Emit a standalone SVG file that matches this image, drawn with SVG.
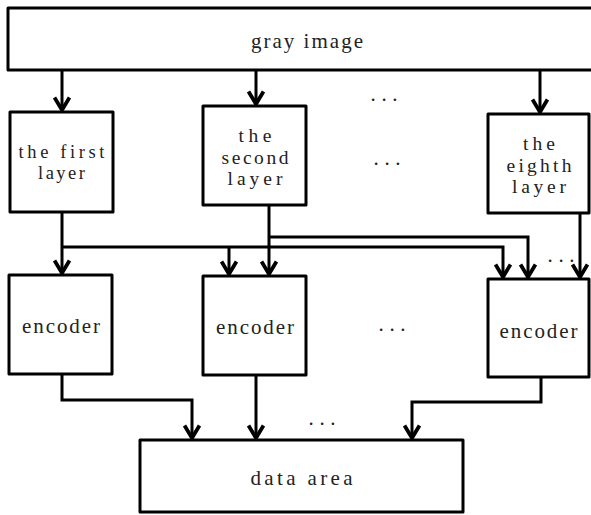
<svg xmlns="http://www.w3.org/2000/svg" width="591" height="515" viewBox="0 0 591 515">
  <style>
    .box { fill: #ffffff; stroke: #000000; stroke-width: 3; stroke-linejoin: round; }
    .lbl { font-family: "Liberation Serif", "Times New Roman", serif; fill: #222222; text-anchor: middle; }
    .s18 { font-size: 18.5px; }
    .s19 { font-size: 19.5px; }
    .s21 { font-size: 21px; }
    .wire { fill: none; stroke: #000000; stroke-width: 3; stroke-linejoin: miter; }
    .arrow { marker-end: url(#head); }
  </style>
  <defs>
    <marker id="head" markerUnits="userSpaceOnUse" orient="auto" refX="0" refY="0" markerWidth="20" markerHeight="20" viewBox="-12 -8 14 16" overflow="visible">
      <path d="M-10,-6 L0,0 L-10,6" fill="none" stroke="#000000" stroke-width="3" stroke-linejoin="miter"/>
    </marker>
  </defs>

  <rect width="591" height="515" fill="#ffffff"/>

  <!-- connectors -->
  <g id="connectors">
    <path class="wire arrow" d="M62,70 V110"/>
    <path class="wire arrow" d="M256,70 V104"/>
    <path class="wire arrow" d="M540,70 V112"/>

    <path class="wire arrow" d="M62,212 V273"/>
    <path class="wire arrow" d="M62,247 H503 V277"/>
    <path class="wire arrow" d="M229,247 V274"/>
    <path class="wire arrow" d="M269,205 V274"/>
    <path class="wire arrow" d="M269,237 H528 V277"/>
    <path class="wire arrow" d="M580,213 V277"/>

    <path class="wire arrow" d="M62,374 V400 H192 V438"/>
    <path class="wire arrow" d="M256,375 V438"/>
    <path class="wire arrow" d="M541,377 V402 H412 V438"/>
  </g>

  <!-- input image -->
  <g id="gray-image">
    <rect class="box" x="8" y="8" width="586" height="62"/>
    <text class="lbl s21" x="307" y="48" textLength="112" lengthAdjust="spacing">gray image</text>
  </g>

  <!-- bit layers -->
  <g id="layer-1">
    <rect class="box" x="10" y="112" width="103" height="100"/>
    <text class="lbl s18" x="61.5" y="158" textLength="86" lengthAdjust="spacing">the first</text>
    <text class="lbl s18" x="61.5" y="179" textLength="47" lengthAdjust="spacing">layer</text>
  </g>
  <g id="layer-2">
    <rect class="box" x="203" y="106" width="103" height="99"/>
    <text class="lbl s19" x="255" y="141.8" textLength="33" lengthAdjust="spacing">the</text>
    <text class="lbl s19" x="255" y="163.5" textLength="67" lengthAdjust="spacing">second</text>
    <text class="lbl s19" x="255" y="185.2" textLength="55" lengthAdjust="spacing">layer</text>
  </g>
  <g id="layer-8">
    <rect class="box" x="488" y="114" width="101" height="99"/>
    <text class="lbl s19" x="539" y="149.8" textLength="32" lengthAdjust="spacing">the</text>
    <text class="lbl s19" x="539" y="171.5" textLength="65" lengthAdjust="spacing">eighth</text>
    <text class="lbl s19" x="539" y="193.2" textLength="54" lengthAdjust="spacing">layer</text>
  </g>

  <!-- encoders -->
  <g id="encoder-1">
    <rect class="box" x="9" y="275" width="103" height="99"/>
    <text class="lbl s21" x="61" y="333" textLength="78" lengthAdjust="spacing">encoder</text>
  </g>
  <g id="encoder-2">
    <rect class="box" x="203" y="276" width="103" height="99"/>
    <text class="lbl s21" x="255" y="333.5" textLength="78" lengthAdjust="spacing">encoder</text>
  </g>
  <g id="encoder-3">
    <rect class="box" x="488" y="279" width="101" height="98"/>
    <text class="lbl s21" x="538.5" y="337.5" textLength="78" lengthAdjust="spacing">encoder</text>
  </g>

  <!-- output -->
  <g id="data-area">
    <rect class="box" x="140" y="440" width="323" height="72"/>
    <text class="lbl s21" x="301.5" y="485" textLength="102" lengthAdjust="spacing">data area</text>
  </g>

  <!-- ellipses for omitted layers -->
  <g id="ellipses" class="lbl s21">
    <text x="384" y="101" textLength="27" lengthAdjust="spacing">...</text>
    <text x="387" y="165" textLength="27" lengthAdjust="spacing">...</text>
    <text x="392" y="331" textLength="27" lengthAdjust="spacing">...</text>
    <text x="322" y="425" textLength="27" lengthAdjust="spacing">...</text>
    <text x="561" y="262" textLength="27" lengthAdjust="spacing">...</text>
  </g>
</svg>
